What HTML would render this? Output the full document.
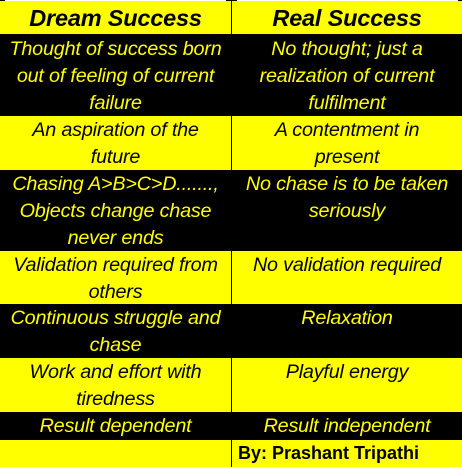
<!DOCTYPE html>
<html><head><style>
body{margin:0;width:462px;height:467px;background:#000;overflow:hidden;font-family:"Liberation Sans",sans-serif;}
.c{position:absolute;box-sizing:border-box;text-align:center;font-style:italic;font-size:19.8px;line-height:27px;padding-top:1px;letter-spacing:-0.2px;white-space:nowrap;}
.y{background:#ff0;color:#000;}
.k{background:#000;color:#ff0;}
.h{font-weight:bold;font-size:23.5px;line-height:34px;padding-top:0;}
</style></head><body>
<div style="position:absolute;left:5px;top:0;width:221px;height:1px;background:#fff"></div>
<div style="position:absolute;left:237px;top:0;width:221px;height:1px;background:#fff"></div>

<div class="c y h" style="left:0;top:1px;width:231px;height:33px;line-height:34px">Dream Success</div>
<div class="c y h" style="left:232px;top:1px;width:230px;height:33px;line-height:34px">Real Success</div>

<div class="c k" style="left:0;top:35px;width:231px;height:81px">Thought of success born<br>out of feeling of current<br>failure</div>
<div class="c k" style="left:232px;top:35px;width:230px;height:81px">No thought; just a<br>realization of current<br>fulfilment</div>

<div class="c y" style="left:0;top:116px;width:231px;height:54px">An aspiration of the<br>future</div>
<div class="c y" style="left:232px;top:116px;width:230px;height:54px">A contentment in<br>present</div>

<div class="c k" style="left:0;top:170px;width:231px;height:81px">Chasing A&gt;B&gt;C&gt;D.......,<br>Objects change chase<br>never ends</div>
<div class="c k" style="left:232px;top:170px;width:230px;height:81px">No chase is to be taken<br>seriously</div>

<div class="c y" style="left:0;top:251px;width:231px;height:53px">Validation required from<br>others</div>
<div class="c y" style="left:232px;top:251px;width:230px;height:53px">No validation required</div>

<div class="c k" style="left:0;top:304px;width:231px;height:54px">Continuous struggle and<br>chase</div>
<div class="c k" style="left:232px;top:304px;width:230px;height:54px">Relaxation</div>

<div class="c y" style="left:0;top:358px;width:231px;height:54px">Work and effort with<br>tiredness</div>
<div class="c y" style="left:232px;top:358px;width:230px;height:54px">Playful energy</div>

<div class="c k" style="left:0;top:412px;width:231px;height:28px">Result dependent</div>
<div class="c k" style="left:232px;top:412px;width:230px;height:28px">Result independent</div>

<div class="c y" style="left:0;top:440px;width:231px;height:27px"></div>
<div class="c y" style="left:232px;top:440px;width:230px;height:27px;text-align:left;font-style:normal;font-weight:bold;font-size:18px;padding-left:6px;line-height:27px;padding-top:0;letter-spacing:0">By: Prashant Tripathi</div>
</body></html>
